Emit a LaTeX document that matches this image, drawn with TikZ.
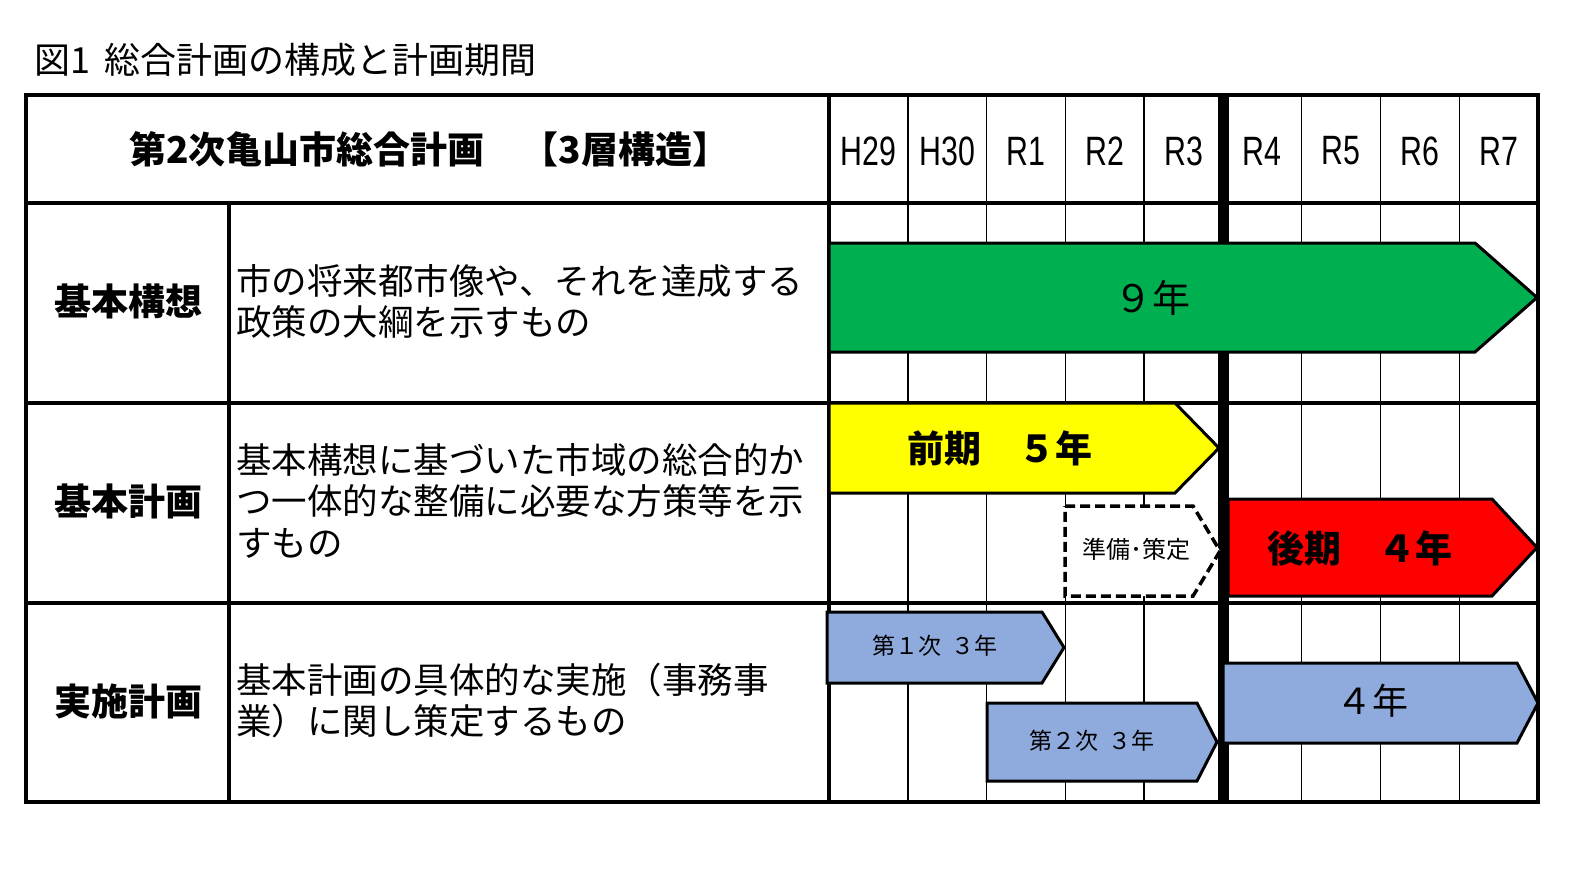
\documentclass[tikz,border=0pt]{standalone}
\usepackage{fontspec}
\setmainfont{Noto Sans CJK JP}
\newfontfamily\yrfont[FakeStretch=0.74]{Liberation Sans}
\definecolor{gr}{HTML}{00B050}
\definecolor{ye}{HTML}{FFFF00}
\definecolor{rd}{HTML}{FF0000}
\definecolor{bl}{HTML}{8FAADC}
\newcommand{\pentarrow}[6]{\draw[#1] (#2,#3) -- (#5,#3) -- (#6,{(#3+#4)/2}) -- (#5,#4) -- (#2,#4) -- cycle;}
\begin{document}
\begin{tikzpicture}[x=1pt,y=-1pt,
  border/.style={line width=4pt},
  thinline/.style={line width=1.5pt},
  shapeline/.style={draw=black,line width=3pt,line join=miter},
  txt/.style={inner sep=0pt},
  yr/.style={inner sep=0pt,font=\yrfont\fontsize{41}{45}\selectfont},
  rowlbl/.style={inner sep=0pt,font=\bfseries\fontsize{37}{40}\selectfont},
  desc/.style={inner sep=0pt,anchor=west,align=left,font=\fontsize{35.5}{41.5}\selectfont},
]
\path[use as bounding box,fill=white] (0,0) rectangle (1581,881);

% title
\node[txt,anchor=west,font=\fontsize{36}{40}\selectfont] (title) at (34,60) {図1\hspace{0.4em}総合計画の構成と計画期間};

% thin year lines
\foreach \i in {1,2,3,4,6,7,8}{
  \draw[thinline] ({829+\i*78.78},95) -- ({829+\i*78.78},802);
}
% horizontal lines
\draw[border] (26,203) -- (1538,203);
\draw[border] (26,403) -- (1538,403);
\draw[border] (26,603) -- (1538,603);
% vertical lines
\draw[border] (229,203) -- (229,802);
\draw[border] (829,95) -- (829,802);
\draw[border] (26,95) rectangle (1538,802);
\draw[line width=11pt] (1223.5,93) -- (1223.5,804);

% header
\node[txt,anchor=west,font=\bfseries\fontsize{37}{40}\selectfont] (hdr) at (129,149) {第2次亀山市総合計画　【3層構造】};
\foreach \lab [count=\k from 0] in {H29,H30,R1,R2,R3,R4,R5,R6,R7}{
  \node[yr] (yr\k) at ({829+(\k+0.5)*78.78},151) {\lab};
}

% row labels
\node[rowlbl] (l1) at (128,301) {基本構想};
\node[rowlbl] (l2) at (128,501) {基本計画};
\node[rowlbl] (l3) at (128,701) {実施計画};

% descriptions
\node[desc] (d1) at (236,301.5) {市の将来都市像や、それを達成する\\政策の大綱を示すもの};
\node[desc] (d2) at (236,500.5) {基本構想に基づいた市域の総合的か\\つ一体的な整備に必要な方策等を示\\すもの};
\node[desc] (d3) at (236,700.5) {基本計画の具体的な実施（事務事\\業）に関し策定するもの};

% arrows
\pentarrow{shapeline,fill=gr}{829}{243}{352}{1475}{1537}
\node[txt,font=\fontsize{38}{40}\selectfont] (a1) at (1152,298) {９年};

\pentarrow{shapeline,fill=ye}{829}{403}{493}{1175}{1219}
\node[txt,font=\bfseries\fontsize{37}{40}\selectfont] (a2) at (1000,448) {前期　５年};

\pentarrow{shapeline,fill=white,dash pattern=on 10pt off 5pt,line width=3.5pt}{1065}{506}{596}{1193}{1220}
\node[txt,font=\fontsize{24}{26}\selectfont] (a3) at (1136,549) {準備･策定};

\pentarrow{shapeline,fill=rd}{1228}{499}{596}{1492}{1537}
\node[txt,font=\bfseries\fontsize{37}{40}\selectfont] (a4) at (1360,548) {後期　４年};

\pentarrow{shapeline,fill=bl}{827}{612}{683}{1042}{1064}
\node[txt,font=\fontsize{23}{25}\selectfont] (a5) at (935,646) {第１次\hspace{0.45em}３年};

\pentarrow{shapeline,fill=bl}{987}{703}{781}{1197}{1217}
\node[txt,font=\fontsize{23}{25}\selectfont] (a6) at (1092,741) {第２次\hspace{0.45em}３年};

\pentarrow{shapeline,fill=bl}{1223}{663}{743}{1517}{1538}
\node[txt,font=\fontsize{36}{40}\selectfont] (a7) at (1372,701) {４年};
\end{tikzpicture}
\end{document}
